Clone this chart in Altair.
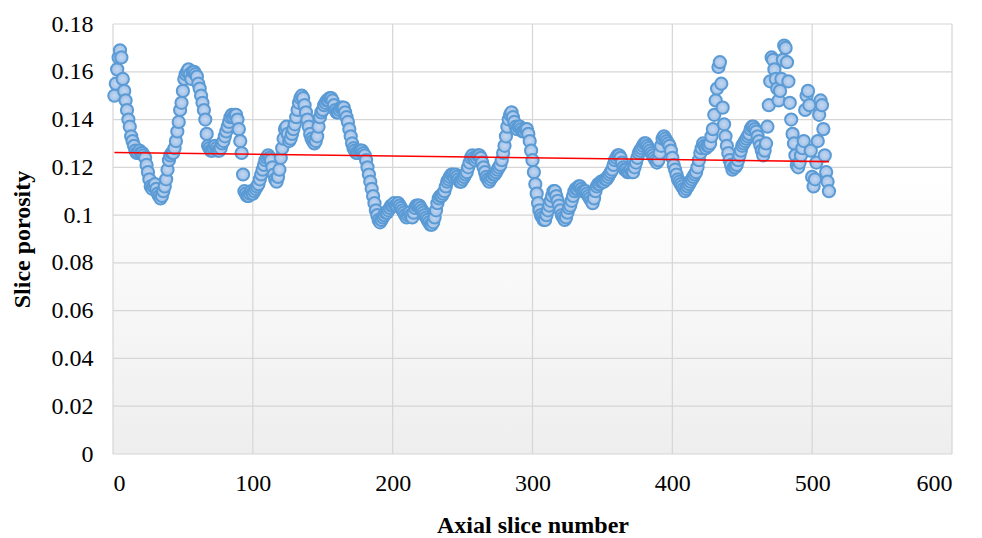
import altair as alt
import pandas as pd

# ---- data ----
slice_number = list(range(1, 513))
porosity = [
    0.150, 0.155, 0.161, 0.166, 0.169, 0.166, 0.157, 0.152, 0.148, 0.144,
    0.140, 0.137, 0.133, 0.131, 0.129, 0.127, 0.126, 0.126, 0.127, 0.126,
    0.126, 0.125, 0.124, 0.121, 0.118, 0.115, 0.112, 0.111, 0.112, 0.113,
    0.111, 0.109, 0.108, 0.107, 0.108, 0.110, 0.112, 0.115, 0.119, 0.123,
    0.125, 0.126, 0.126, 0.128, 0.131, 0.135, 0.139, 0.144, 0.147, 0.152,
    0.157, 0.159, 0.160, 0.161, 0.159, 0.157, 0.160, 0.160, 0.159, 0.158,
    0.155, 0.153, 0.150, 0.147, 0.144, 0.140, 0.134, 0.129, 0.128, 0.127,
    0.127, 0.128, 0.129, 0.128, 0.127, 0.127, 0.128, 0.130, 0.131, 0.133,
    0.135, 0.137, 0.139, 0.141, 0.142, 0.141, 0.142, 0.142, 0.140, 0.136,
    0.131, 0.126, 0.117, 0.110, 0.109, 0.108, 0.108, 0.109, 0.110, 0.109,
    0.110, 0.111, 0.112, 0.113, 0.115, 0.117, 0.119, 0.121, 0.123, 0.124,
    0.125, 0.124, 0.123, 0.120, 0.117, 0.115, 0.114, 0.116, 0.119, 0.124,
    0.128, 0.132, 0.136, 0.137, 0.134, 0.131, 0.132, 0.134, 0.136, 0.138,
    0.141, 0.144, 0.147, 0.149, 0.150, 0.149, 0.146, 0.143, 0.140, 0.137,
    0.134, 0.132, 0.131, 0.130, 0.131, 0.133, 0.137, 0.141, 0.143, 0.144,
    0.146, 0.147, 0.148, 0.148, 0.149, 0.149, 0.148, 0.146, 0.144, 0.143,
    0.143, 0.144, 0.145, 0.145, 0.145, 0.143, 0.141, 0.139, 0.136, 0.133,
    0.130, 0.128, 0.127, 0.126, 0.126, 0.127, 0.127, 0.127, 0.126, 0.125,
    0.123, 0.120, 0.117, 0.114, 0.111, 0.108, 0.105, 0.102, 0.100, 0.098,
    0.097, 0.098, 0.099, 0.100, 0.101, 0.101, 0.102, 0.103, 0.104, 0.104,
    0.105, 0.104, 0.104, 0.105, 0.104, 0.103, 0.102, 0.101, 0.100, 0.099,
    0.100, 0.101, 0.100, 0.099, 0.101, 0.103, 0.104, 0.104, 0.104, 0.103,
    0.102, 0.101, 0.100, 0.099, 0.098, 0.097, 0.096, 0.096, 0.097, 0.099,
    0.102, 0.105, 0.107, 0.108, 0.108, 0.109, 0.110, 0.112, 0.114, 0.115,
    0.116, 0.117, 0.117, 0.116, 0.117, 0.116, 0.115, 0.114, 0.114, 0.115,
    0.116, 0.117, 0.118, 0.120, 0.122, 0.124, 0.125, 0.124, 0.123, 0.124,
    0.125, 0.125, 0.124, 0.122, 0.120, 0.118, 0.116, 0.115, 0.114, 0.115,
    0.116, 0.117, 0.117, 0.118, 0.119, 0.120, 0.121, 0.123, 0.126, 0.129,
    0.133, 0.137, 0.140, 0.142, 0.143, 0.141, 0.139, 0.137, 0.136, 0.137,
    0.137, 0.136, 0.135, 0.135, 0.136, 0.136, 0.134, 0.131, 0.127, 0.123,
    0.118, 0.113, 0.109, 0.105, 0.102, 0.100, 0.099, 0.098, 0.098, 0.100,
    0.102, 0.104, 0.106, 0.108, 0.110, 0.110, 0.108, 0.106, 0.104, 0.102,
    0.100, 0.099, 0.098, 0.099, 0.101, 0.103, 0.104, 0.106, 0.108, 0.110,
    0.111, 0.111, 0.112, 0.112, 0.111, 0.110, 0.110, 0.110, 0.109, 0.108,
    0.107, 0.106, 0.105, 0.107, 0.110, 0.112, 0.113, 0.113, 0.114, 0.114,
    0.114, 0.115, 0.115, 0.116, 0.117, 0.118, 0.119, 0.121, 0.123, 0.124,
    0.125, 0.125, 0.124, 0.122, 0.120, 0.119, 0.119, 0.118, 0.118, 0.119,
    0.118, 0.118, 0.120, 0.122, 0.124, 0.126, 0.127, 0.128, 0.129, 0.130,
    0.130, 0.129, 0.128, 0.127, 0.126, 0.125, 0.124, 0.123, 0.122, 0.123,
    0.126, 0.129, 0.132, 0.133, 0.132, 0.131, 0.130, 0.129, 0.127, 0.124,
    0.121, 0.119, 0.117, 0.115, 0.114, 0.113, 0.112, 0.111, 0.110, 0.111,
    0.112, 0.113, 0.114, 0.115, 0.116, 0.117, 0.118, 0.120, 0.123, 0.126,
    0.128, 0.130, 0.129, 0.128, 0.129, 0.129, 0.130, 0.133, 0.136, 0.142,
    0.148, 0.153, 0.162, 0.164, 0.155, 0.145, 0.138, 0.133, 0.129, 0.126,
    0.123, 0.121, 0.119, 0.120, 0.120, 0.121, 0.123, 0.125, 0.127, 0.129,
    0.130, 0.131, 0.132, 0.133, 0.134, 0.136, 0.137, 0.137, 0.136, 0.135,
    0.133, 0.131, 0.129, 0.127, 0.125, 0.127, 0.130, 0.137, 0.146, 0.156,
    0.166, 0.165, 0.161, 0.157, 0.153, 0.148, 0.152, 0.157, 0.165, 0.171,
    0.170, 0.164, 0.156, 0.147, 0.140, 0.134, 0.130, 0.125, 0.121, 0.120,
    0.122, 0.125, 0.128, 0.131, 0.144, 0.150, 0.152, 0.146, 0.127, 0.116,
    0.112, 0.115, 0.122, 0.131, 0.142, 0.148, 0.146, 0.136, 0.125, 0.118,
    0.114, 0.110,
]
x_ticks = [0, 100, 200, 300, 400, 500, 600]
y_ticks = [0, 0.02, 0.04, 0.06, 0.08, 0.1, 0.12, 0.14, 0.16, 0.18]
trend_x = [1, 512]
trend_y = [0.1262, 0.1224]

df = pd.DataFrame({"slice": slice_number, "porosity": porosity})
trend = pd.DataFrame({"slice": trend_x, "porosity": trend_y})
bg = pd.DataFrame({"slice": [x_ticks[0]], "slice_end": [x_ticks[-1]],
                   "porosity": [y_ticks[0]], "porosity_end": [y_ticks[-1]]})
xgrid = pd.DataFrame({"slice": x_ticks})
ygrid = pd.DataFrame({"porosity": y_ticks})

xscale = alt.Scale(domain=[x_ticks[0], x_ticks[-1]], nice=False, zero=False)
yscale = alt.Scale(domain=[y_ticks[0], y_ticks[-1]], nice=False, zero=False)

xaxis = alt.Axis(values=x_ticks, title="Axial slice number", grid=False,
                 ticks=False, tickSize=0, domain=False, labelPadding=17,
                 titlePadding=18, format="d")
yaxis = alt.Axis(values=y_ticks, title="Slice porosity", grid=False,
                 ticks=False, tickSize=0, domain=False, labelPadding=20,
                 titlePadding=17, format="~g")

X = alt.X("slice:Q", scale=xscale, axis=xaxis, title="Axial slice number")
Y = alt.Y("porosity:Q", scale=yscale, axis=yaxis, title="Slice porosity")

gradient = alt.LinearGradient(
    gradient="linear",
    stops=[alt.GradientStop(color="#ffffff", offset=0),
           alt.GradientStop(color="#ffffff", offset=0.35),
           alt.GradientStop(color="#eeeeee", offset=1)],
    x1=0, x2=0, y1=0, y2=1,
)

background = alt.Chart(bg).mark_rect(color=gradient).encode(
    x=X, x2="slice_end:Q", y=Y, y2="porosity_end:Q",
)

vgrid = alt.Chart(xgrid).mark_rule(color="#d6d6d6", strokeWidth=1.2).encode(x=X)
hgrid = alt.Chart(ygrid).mark_rule(color="#d6d6d6", strokeWidth=1.2).encode(y=Y)

marker_fill = alt.RadialGradient(
    gradient="radial",
    stops=[alt.GradientStop(color="#c4d8f2", offset=0),
           alt.GradientStop(color="#9fbfe6", offset=1)],
)

points = alt.Chart(df).mark_point(
    shape="circle", filled=True, fill=marker_fill, stroke="#5b9bd5",
    strokeWidth=2, size=150, opacity=1, fillOpacity=1, strokeOpacity=1,
).encode(x=X, y=Y)

trend_line = alt.Chart(trend).mark_line(color="#ff0000", strokeWidth=1.6).encode(
    x=X, y=Y,
)

chart = alt.layer(background, vgrid, hgrid, points, trend_line).properties(
    width=839,
    height=430,
    autosize=alt.AutoSizeParams(type="none"),
    padding={"left": 113, "top": 24, "right": 30, "bottom": 84},
    background="#ffffff",
).configure_view(stroke=None).configure_axis(
    labelFont="Liberation Serif",
    labelFontSize=24,
    labelColor="#000000",
    titleFont="Liberation Serif",
    titleFontSize=24,
    titleFontWeight="bold",
    titleColor="#000000",
)

chart.save("out.html", embed_options={"renderer": "svg", "actions": False})
